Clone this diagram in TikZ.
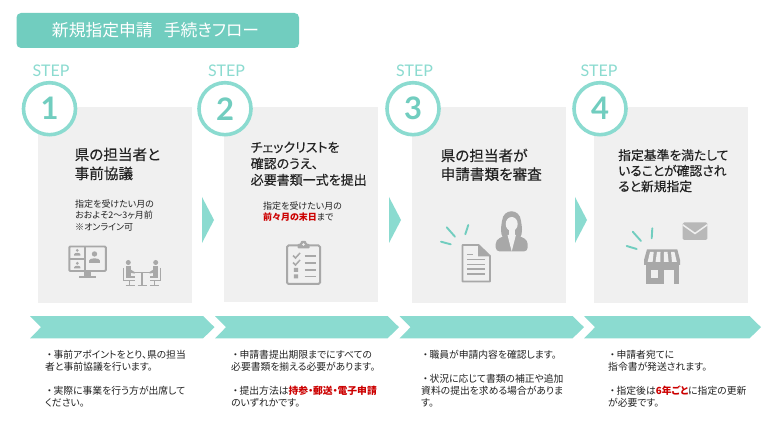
\documentclass[tikz,border=0pt]{standalone}
\usepackage{fontspec}
\setmainfont[RawFeature=+palt]{Noto Sans CJK JP}
\newfontfamily\medf[RawFeature=+palt,FakeBold=0.2]{Noto Sans CJK JP}
\newfontfamily\latinf{Lato}
\lineskiplimit=-100pt
\newcommand{\fsz}[2]{\fontsize{#1}{#2}\selectfont\lineskiplimit=-100pt }
\newcommand{\hl}[1]{\textcolor{redtxt}{\bfseries #1}}
\newcommand{\bl}{\makebox[8.4pt][c]{・}}
\definecolor{tealA}{HTML}{71CDBF}
\definecolor{tealB}{HTML}{8BDBD0}
\definecolor{boxgray}{HTML}{F0F0F0}
\definecolor{icon}{HTML}{A8A8A8}
\definecolor{icontwo}{HTML}{B8B8B8}
\definecolor{txt}{HTML}{222222}
\definecolor{redtxt}{HTML}{CC0000}
\newcommand{\chev}[2]{\fill[tealB] (#1,316) -- ({#2-11.5},316) -- (#2,327.2) -- ({#2-11.5},338.4) -- (#1,338.4) -- ({#1+11},327.2) -- cycle;}
\newcommand{\tri}[1]{\fill[tealB] (#1,197) -- ({#1+12},220) -- (#1,243) -- cycle;}
\newcommand{\pawn}[3]{\fill[icon] (#1,{#2-#3*0.62}) circle ({#3*0.5});
  \fill[icon] ({#1-#3},{#2+#3*1.05}) -- ({#1-#3},{#2+#3*0.6}) .. controls ({#1-#3},{#2+#3*0.05}) and ({#1+#3},{#2+#3*0.05}) .. ({#1+#3},{#2+#3*0.6}) -- ({#1+#3},{#2+#3*1.05}) -- cycle;}
\newcommand{\sitter}{%
  \fill[icon] (128.3,262.5) circle (2.5);
  \fill[icon] (125.8,266) rectangle (130.8,277);
  \fill[icon] (129,268.5) -- (134.5,272) -- (134.5,273.6) -- (129,272.5) -- cycle;
  \draw[icon,line width=1.3] (123.6,268) -- (123.6,280.6) -- (134.5,280.6);
  \fill[icon] (125.8,276) rectangle (134.5,278.2);
  \draw[icon,line width=1.2] (129.5,280.6) -- (129.5,285.3) (125.5,285.3) -- (134.5,285.3);
}
\tikzset{
  titlebox/.style={fill=tealA,rounded corners=4.5,inner sep=0},
  stepword/.style={text=tealB,inner sep=0,font=\latinf\fsz{16}{16}},
  stepnum/.style={circle,draw=tealB,line width=3.6,fill=white,minimum size=52,inner sep=0,text=tealA,font=\latinf\bfseries\fsz{31}{31}},
  panel/.style={fill=boxgray},
  headtxt/.style={anchor=north west,inner sep=0,align=left,text=txt},
  subtxt/.style={anchor=north west,inner sep=0,align=left,text=txt,font=\fsz{9}{11.6}},
  bodytxt/.style={anchor=north west,inner sep=0,align=left,text=txt,font=\fsz{9.8}{11.9}},
  ray/.style={draw=tealA,line width=1.9,line cap=round},
}
\begin{document}
\begin{tikzpicture}[x=1pt,y=-1pt]
\useasboundingbox (0,0) rectangle (778,427);
\fill[white] (0,0) rectangle (778,427);
% title
\fill[titlebox] (16.5,13) rectangle (299,48);
\node[inner sep=0,text=white,font=\fsz{16.8}{17}] (title) at (155.5,30) {新規指定申請\hspace{11pt}手続きフロー};
% panels
\fill[panel] (38,107.5) rectangle (192,303);
\fill[panel] (224,107.5) rectangle (378,301.5);
\fill[panel] (412,107.5) rectangle (566,303);
\fill[panel] (594,107.5) rectangle (748,303);
% step marks
\node[stepword] (w1) at (51,71) {STEP};
\node[stepword] (w2) at (226.5,71) {STEP};
\node[stepword] (w3) at (414.5,71) {STEP};
\node[stepword] (w4) at (599,71) {STEP};
\node[stepnum] (c1) at (49.5,108.7) {1};
\node[stepnum] (c2) at (225,108.7) {2};
\node[stepnum] (c3) at (413,108.7) {3};
\node[stepnum] (c4) at (600,108.7) {4};
% arrows
\tri{202}\tri{389}\tri{575}
\chev{30}{214.5}\chev{215}{399}\chev{399.5}{584}\chev{584}{761}
% headings
\node[headtxt,font=\medf\fsz{14.6}{19}] (h1) at (74.5,147.5) {県の担当者と\\事前協議};
\node[headtxt,font=\medf\fsz{13}{16.3}] (h2) at (250.5,141.5) {チェックリストを\\確認のうえ、\\必要書類一式を提出};
\node[headtxt,font=\medf\fsz{14.6}{18.7}] (h3) at (440.5,148.5) {県の担当者が\\申請書類を審査};
\node[headtxt,font=\medf\fsz{12.8}{15.6}] (h4) at (618,149) {指定基準を満たして\\いることが確認され\\ると新規指定};
% sub texts
\node[subtxt] (s1) at (75,199.5) {指定を受けたい月の\\おおよそ2～3ヶ月前\\※オンライン可};
\node[subtxt] (s2) at (263,201.5) {指定を受けたい月の\\\hl{前々月の末日}まで};
% bottom texts
\node[bodytxt] (b1) at (45,350) {\bl 事前アポイントをとり、県の担当\\者と事前協議を行います。\\[11.9pt]\bl 実際に事業を行う方が出席して\\ください。};
\node[bodytxt] (b2) at (231,350) {\bl 申請書提出期限までにすべての\\必要書類を揃える必要があります。\\[11.9pt]\bl 提出方法は\hl{持参・郵送・電子申請}\\のいずれかです。};
\node[bodytxt] (b3) at (421,350) {\bl 職員が申請内容を確認します。\\[11.9pt]\bl 状況に応じて書類の補正や追加\\資料の提出を求める場合がありま\\す。};
\node[bodytxt] (b4) at (608,350) {\bl 申請者宛てに\\指令書が発送されます。\\[11.9pt]\bl 指定後は\hl{6年ごと}に指定の更新\\が必要です。};
% --- icon: monitor
\draw[icon,line width=1.9,rounded corners=1] (69.3,246.5) rectangle (105.8,271);
\draw[icon,line width=1.6] (85,246.5) -- (85,271) (69.3,259) -- (85,259);
\fill[icon] (84,271) rectangle (91,276);
\fill[icon] (79,275.6) rectangle (96,278.2);
\pawn{77.3}{252.3}{3.1}
\pawn{77.3}{265.2}{3.1}
\pawn{94.5}{257.3}{5.4}
% --- icon: meeting
\sitter
\begin{scope}[xshift=284pt,xscale=-1]\sitter\end{scope}
\draw[icon,line width=1.4] (132.8,272.6) -- (151,272.6) (142,272.6) -- (142,285.3) (137.5,285.6) -- (146.5,285.6);
% --- icon: clipboard
\draw[icon,line width=2,rounded corners=1.5] (287,245.5) rectangle (320,284);
\fill[icon,rounded corners=1] (297.5,243.8) -- (297.5,248.5) -- (309.5,248.5) -- (309.5,243.8) -- (306.5,243.8) -- (306,240.8) -- (301,240.8) -- (300.5,243.8) -- cycle;
\fill[boxgray] (303.5,244.5) circle (1.4);
\draw[icon,line width=1.5] (293,255.5) -- (295.5,258) -- (300,253) (293,262.5) -- (295.5,265) -- (300,260);
\fill[icon] (293.8,268) rectangle (298,272) (293.8,274.5) rectangle (298,278.5);
\draw[icon,line width=1.5] (304.5,256) -- (316,256) (304.5,263) -- (316,263) (304.5,270) -- (316,270) (304.5,276.5) -- (316,276.5);
% --- icon: document
\draw[icon,line width=1.8,line join=round] (462.5,245) -- (478.5,245) -- (490,256) -- (490,281.5) -- (462.5,281.5) -- cycle;
\fill[icon] (478,244.5) -- (490.5,256.5) -- (478,256.5) -- cycle;
\draw[icon,line width=1.4] (467,254.5) -- (473,254.5) (467,259.5) -- (485,259.5) (467,264.3) -- (485,264.3) (467,269.1) -- (485,269.1) (467,274) -- (485,274);
% --- icon: person
\fill[icon] (503,238) .. controls (500,233) and (501,227) .. (502,221) .. controls (503,208) and (520,208) .. (521,221) .. controls (522,227) and (523,233) .. (520,238) -- cycle;
\fill[icon,rounded corners=4] (495.7,251.5) -- (495.7,240) -- (505,235.5) -- (518,235.5) -- (527.7,240) -- (527.7,251.5) -- cycle;
\fill[boxgray] (511.7,224) ellipse (6 and 7);
\fill[boxgray] (508.8,229) rectangle (514.6,235.5);
\fill[boxgray] (507.5,235) -- (511.7,251.5) -- (515.9,235) -- cycle;
% --- rays
\draw[ray] (446.7,227.3) -- (455,236.7) (468.3,225) -- (465.3,234.3) (441,241.7) -- (450.7,244.3);
\draw[ray] (632.7,231.7) -- (641,241) (652.3,228.3) -- (651.7,238.3) (626.7,246) -- (636.7,249);
% --- icon: shop
\fill[icon] (646,262) rectangle (678.5,284);
\fill[boxgray] (650.7,270) rectangle (658.3,278.3);
\fill[boxgray] (664,270) rectangle (674,284.5);
\fill[icon] (647,249.3) -- (677.3,249.3) -- (680,260) -- (680,265) -- (644,265) -- (644,260) -- cycle;
\fill[boxgray] (650,252) -- (653.7,252) -- (652.6,262) -- (647.6,262) -- cycle;
\fill[boxgray] (657,252) -- (660.5,252) -- (660.3,262) -- (655.5,262) -- cycle;
\fill[boxgray] (664,252) -- (667.5,252) -- (668.6,262) -- (663.8,262) -- cycle;
\fill[boxgray] (671,252) -- (674.5,252) -- (676.8,262) -- (672,262) -- cycle;
% --- icon: envelope
\fill[icontwo,rounded corners=1.5] (682.7,222.3) rectangle (707.3,240);
\draw[boxgray,line width=1.5] (682.7,224.8) -- (695,233.5) -- (707.3,224.8);
\end{tikzpicture}
\end{document}
